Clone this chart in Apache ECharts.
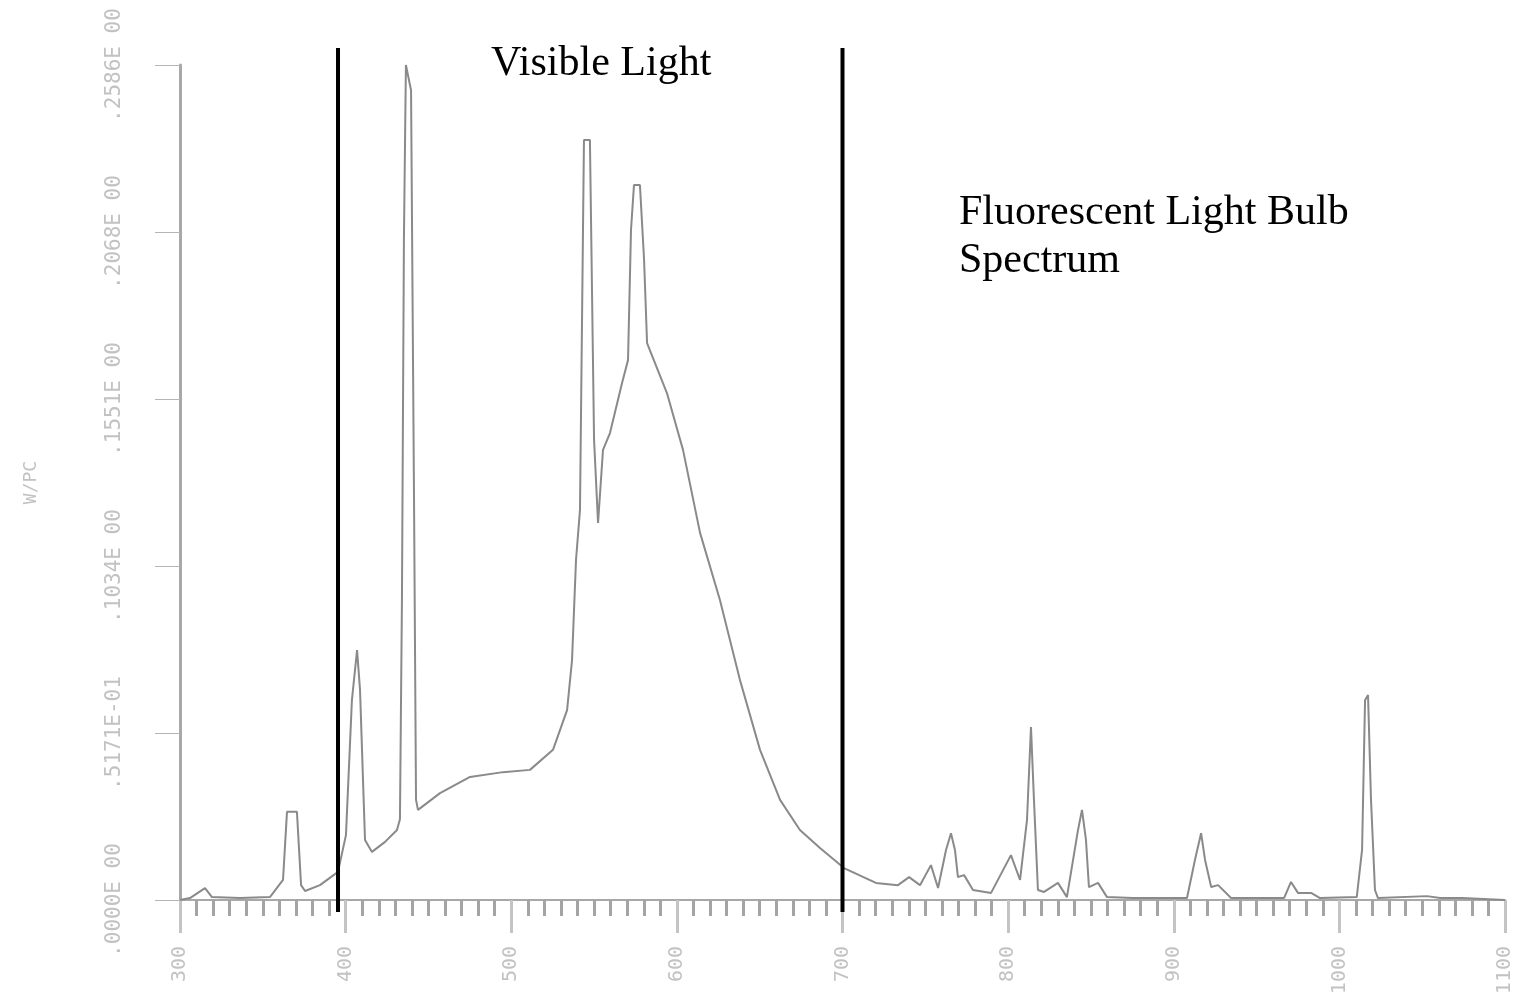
<!DOCTYPE html>
<html>
<head>
<meta charset="utf-8">
<script src="https://cdn.jsdelivr.net/npm/echarts@6/dist/echarts.min.js"></script>
<style>
  html, body { margin: 0; padding: 0; background: #fff; }
  #chart { width: 1534px; height: 1002px; }
</style>
</head>
<body>
<div id="chart"></div>
<script>
// wavelength (nm) and intensity
const wavelengths = [
  300, 306.0, 315.1, 319.3, 336.2, 354.3, 362.2, 364.6, 370.6, 373.1,
  375.5, 384.5, 395.4, 400.2, 403.8, 406.9, 408.7, 411.7, 415.9, 423.8,
  431.0, 432.8, 434.0, 435.2, 436.4, 439.5, 441.3, 442.5, 443.7, 457.0,
  475.1, 495.0, 511.3, 525.2, 533.7, 536.7, 539.1, 541.5, 543.9, 547.5,
  550.0, 552.4, 555.4, 559.6, 566.9, 570.5, 572.3, 574.1, 577.7, 580.2,
  582.0, 594.0, 603.7, 614.0, 626.0, 638.1, 650.2, 662.3, 674.3, 686.4,
  700.9, 720.2, 733.5, 740.2, 746.8, 753.4, 757.7, 762.5, 765.5, 767.9,
  769.7, 773.4, 778.8, 789.7, 801.7, 807.2, 811.4, 813.8, 815.6, 818.0,
  821.7, 830.1, 835.5, 842.2, 844.6, 847.0, 848.8, 854.3, 859.7, 875.4,
  908.0, 912.8, 916.5, 918.9, 922.6, 926.8, 934.6, 966.6, 970.8, 975.0,
  982.9, 988.3, 1010.5, 1013.7, 1015.5, 1017.3, 1019.1, 1021.5, 1023.3, 1052.9,
  1060.8, 1074.0, 1100
];
const intensities = [
  0.0, 0.0006, 0.0037, 0.0009, 0.0006, 0.0009, 0.0062, 0.0273, 0.0273, 0.0046,
  0.0028, 0.0046, 0.0087, 0.0201, 0.0619, 0.0774, 0.0650, 0.0186, 0.0149, 0.0180,
  0.0217, 0.0250, 0.0929, 0.2045, 0.2586, 0.2508, 0.1239, 0.0310, 0.0279, 0.0331,
  0.0381, 0.0396, 0.0403, 0.0465, 0.0588, 0.0743, 0.1053, 0.1208, 0.2354, 0.2354,
  0.1425, 0.1168, 0.1394, 0.1446, 0.1601, 0.1672, 0.2075, 0.2214, 0.2214, 0.1982,
  0.1725, 0.1570, 0.1394, 0.1137, 0.0929, 0.0681, 0.0465, 0.0310, 0.0217, 0.0161,
  0.0099, 0.0053, 0.0046, 0.0071, 0.0046, 0.0108, 0.0037, 0.0155, 0.0207, 0.0155,
  0.0071, 0.0077, 0.0031, 0.0022, 0.0139, 0.0062, 0.0248, 0.0536, 0.0310, 0.0031,
  0.0025, 0.0053, 0.0009, 0.0217, 0.0279, 0.0186, 0.0040, 0.0053, 0.0009, 0.0006,
  0.0006, 0.0124, 0.0207, 0.0124, 0.0040, 0.0046, 0.0006, 0.0006, 0.0056, 0.0022,
  0.0022, 0.0006, 0.0009, 0.0155, 0.0619, 0.0635, 0.0310, 0.0031, 0.0006, 0.0012,
  0.0006, 0.0006, 0.0
];
// visible band edges (nm)
const visibleEdges = [395.4, 700];
const yTickLabels = ['.0000E 00', '.5171E-01', '.1034E 00', '.1551E 00', '.2068E 00', '.2586E 00'];

const yStep = 0.05172;
const yMax = 0.2586;

const chart = echarts.init(document.getElementById('chart'));

const edgeSeries = visibleEdges.map(x => ({
  type: 'line',
  clip: false,
  silent: true,
  showSymbol: false,
  data: [[x, 0.2639], [x, -0.0037]],
  lineStyle: { color: '#000', width: 4 },
  z: 5
}));

const labelFont = 'DejaVu Sans Mono';

chart.setOption({
  animation: false,
  backgroundColor: '#fff',
  title: [
    {
      text: 'Visible Light',
      left: 486,
      top: 38,
      textStyle: { fontFamily: 'Liberation Serif', fontSize: 42, fontWeight: 'normal', color: '#000' }
    },
    {
      text: 'Fluorescent Light Bulb\nSpectrum',
      left: 954,
      top: 184,
      textStyle: { fontFamily: 'Liberation Serif', fontSize: 42, fontWeight: 'normal', color: '#000', lineHeight: 48 }
    }
  ],
  grid: { left: 180, right: 29, top: 65, bottom: 102 },
  xAxis: {
    type: 'value',
    min: 300,
    max: 1100,
    interval: 100,
    splitLine: { show: false },
    axisLine: { lineStyle: { color: '#a8a8a8', width: 2 } },
    axisTick: { length: 33, lineStyle: { color: '#c4c4c4', width: 3 } },
    minorTick: { show: true, splitNumber: 10, length: 16, lineStyle: { color: '#a4a4a4', width: 3 } },
    axisLabel: {
      rotate: 90,
      margin: 46,
      color: '#c2c2c2',
      fontSize: 20,
      fontFamily: labelFont,
      formatter: v => String(v)
    }
  },
  yAxis: {
    type: 'value',
    min: 0,
    max: yMax,
    interval: yStep,
    name: 'W/PC',
    nameLocation: 'middle',
    nameRotate: 90,
    nameGap: 140,
    nameTextStyle: { color: '#c2c2c2', fontSize: 18, fontFamily: labelFont },
    splitLine: { show: false },
    axisLine: { show: true, lineStyle: { color: '#a8a8a8', width: 3 } },
    axisTick: { show: true, length: 25, lineStyle: { color: '#b5b5b5', width: 1 } },
    axisLabel: {
      rotate: 90,
      margin: 55,
      align: 'center',
      verticalAlign: 'bottom',
      color: '#c2c2c2',
      fontSize: 21,
      fontFamily: labelFont,
      formatter: v => yTickLabels[Math.round(v / yStep)]
    }
  },
  series: [
    {
      name: 'spectrum',
      type: 'line',
      showSymbol: false,
      data: wavelengths.map((w, i) => [w, intensities[i]]),
      lineStyle: { color: '#8a8a8a', width: 2 },
      z: 3
    },
    ...edgeSeries
  ]
});
</script>
</body>
</html>
